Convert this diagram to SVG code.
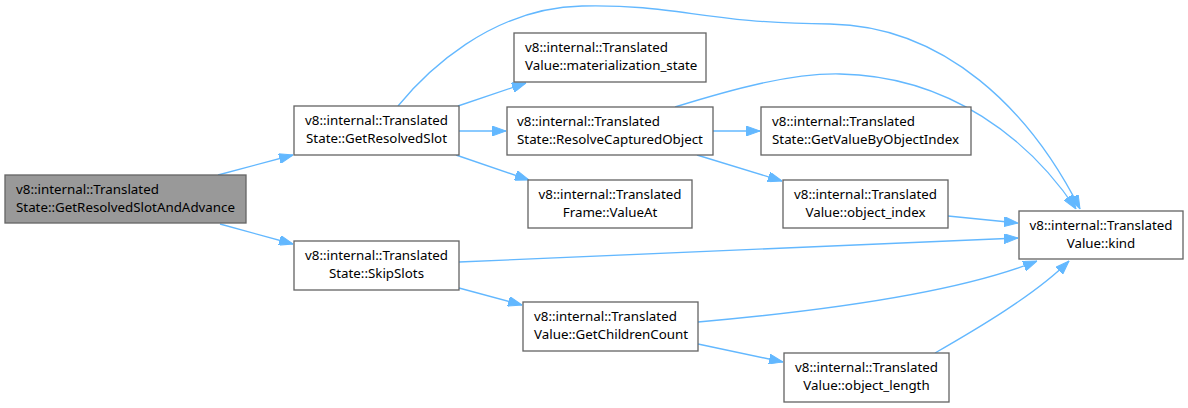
<svg xmlns="http://www.w3.org/2000/svg" width="1188" height="408" viewBox="0 0 1188 408">
<style>
.n rect{fill:#ffffff;stroke:#666666;stroke-width:1.33}
.n text{font-family:"Noto Sans","Open Sans",sans-serif;font-size:13.33px;fill:#000000}
.c{text-anchor:middle}
.e path{fill:none;stroke:#63b8ff;stroke-width:1.33;marker-end:url(#ah)}
</style>
<defs>
<marker id="ah" markerUnits="userSpaceOnUse" markerWidth="14" markerHeight="10" viewBox="0 0 14 10" refX="14" refY="5" orient="auto">
<path d="M0,0 L14,5 L0,10 z" fill="#63b8ff" stroke="#63b8ff" stroke-width="1"/>
</marker>
</defs>
<rect width="1188" height="408" fill="#ffffff"/>
<g id="edges" class="e">
<path d="M218,175 L293,155"/>
<path d="M220,224 L293,244"/>
<path d="M458,106 L526,83"/>
<path d="M459,131 L506,131"/>
<path d="M456,155 L529,180"/>
<path d="M398,106 C425,73 490,8 582,6 C680,4 700,23 830,24 C945,26 1030,110 1080,209"/>
<path d="M675,107 C730,90 790,73 840,74 C950,76 1030,140 1076,209"/>
<path d="M713,131 L760,131"/>
<path d="M697,155 L782,181"/>
<path d="M948,216 L1018,223"/>
<path d="M459,262 L1018,238"/>
<path d="M459,288 L522,305"/>
<path d="M698,322 C800,313 950,296 1037,261"/>
<path d="M698,344 L783,362"/>
<path d="M935,353 C975,330 1035,295 1069,261"/>
</g>
<g id="n0" class="n"><rect x="5" y="175" width="241" height="48" style="fill:#999999"/><text x="16" y="194">v8::internal::Translated</text><text x="16" y="212">State::GetResolvedSlotAndAdvance</text></g>
<g id="n1" class="n"><rect x="294" y="106" width="165" height="49"/><text class="c" x="376.5" y="125">v8::internal::Translated</text><text class="c" x="376.5" y="143">State::GetResolvedSlot</text></g>
<g id="n2" class="n"><rect x="294" y="241" width="165" height="49"/><text class="c" x="376.5" y="260">v8::internal::Translated</text><text class="c" x="376.5" y="278">State::SkipSlots</text></g>
<g id="n3" class="n"><rect x="514" y="33" width="192" height="49"/><text x="525" y="52">v8::internal::Translated</text><text x="525" y="70">Value::materialization_state</text></g>
<g id="n4" class="n"><rect x="507" y="107" width="206" height="48"/><text x="517" y="126">v8::internal::Translated</text><text x="517" y="144">State::ResolveCapturedObject</text></g>
<g id="n5" class="n"><rect x="528" y="180" width="164" height="48"/><text class="c" x="610" y="199">v8::internal::Translated</text><text class="c" x="610" y="217">Frame::ValueAt</text></g>
<g id="n6" class="n"><rect x="761" y="107" width="210" height="48"/><text x="772" y="126">v8::internal::Translated</text><text x="772" y="144">State::GetValueByObjectIndex</text></g>
<g id="n7" class="n"><rect x="783" y="180" width="165" height="48"/><text class="c" x="865.5" y="199">v8::internal::Translated</text><text class="c" x="865.5" y="217">Value::object_index</text></g>
<g id="n8" class="n"><rect x="1019" y="211" width="164" height="48"/><text class="c" x="1101" y="230">v8::internal::Translated</text><text class="c" x="1101" y="248">Value::kind</text></g>
<g id="n9" class="n"><rect x="523" y="302" width="175" height="49"/><text x="534" y="321">v8::internal::Translated</text><text x="534" y="339">Value::GetChildrenCount</text></g>
<g id="n10" class="n"><rect x="784" y="353" width="165" height="49"/><text class="c" x="866.5" y="372">v8::internal::Translated</text><text class="c" x="866.5" y="390">Value::object_length</text></g>
</svg>
